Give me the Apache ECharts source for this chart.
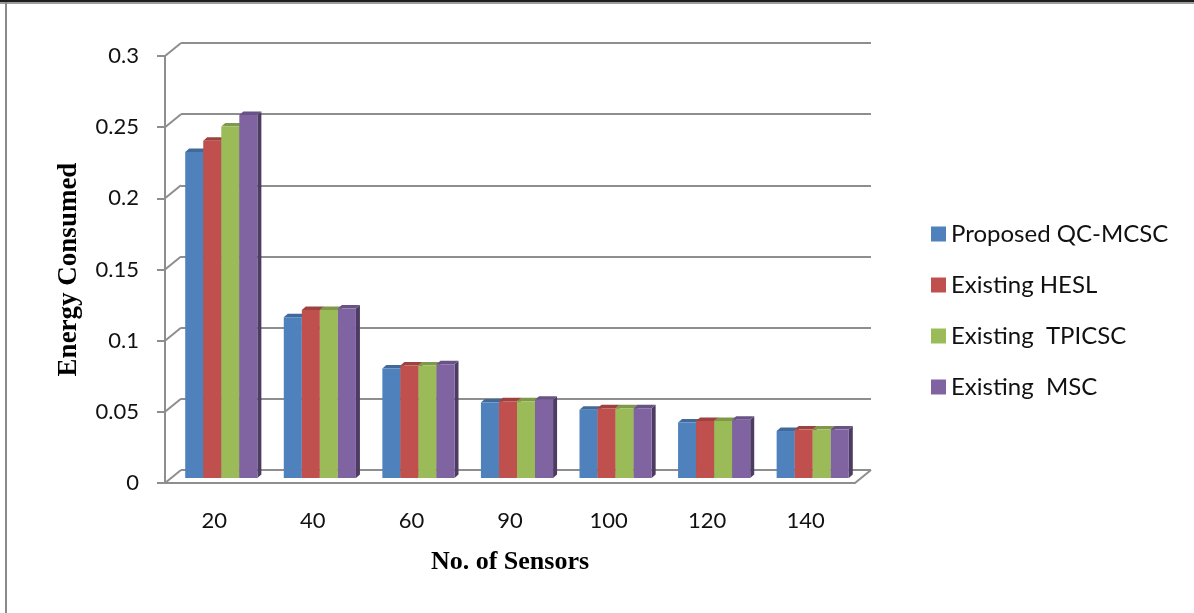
<!DOCTYPE html>
<html>
<head>
<meta charset="utf-8">
<title>Energy Consumed vs No. of Sensors</title>
<script src="https://cdn.jsdelivr.net/npm/echarts@6/dist/echarts.min.js"></script>
<style>
  html, body { margin: 0; padding: 0; background: #ffffff; }
  #chart { width: 1194px; height: 613px; }
</style>
</head>
<body>
<div id="chart"></div>
<script>
// Sensor counts on the category axis
const categories = ['20', '40', '60', '90', '100', '120', '140'];

// Energy consumed per scheme
const proposedQCMCSC = [0.229, 0.113, 0.077, 0.053, 0.048, 0.039, 0.033];
const existingHESL   = [0.237, 0.118, 0.079, 0.054, 0.049, 0.040, 0.034];
const existingTPICSC = [0.247, 0.118, 0.079, 0.054, 0.049, 0.040, 0.034];
const existingMSC    = [0.255, 0.119, 0.080, 0.055, 0.049, 0.041, 0.034];

const seriesNames = ['Proposed QC-MCSC', 'Existing HESL', 'Existing  TPICSC', 'Existing  MSC'];
const seriesColors = ['#4F81BD', '#C0504D', '#9BBB59', '#8064A2'];

// Value-axis ticks (also used for the wall/floor connector lines)
const yTicks = [0, 0.05, 0.1, 0.15, 0.2, 0.25, 0.3];

// Oblique projection of the 3D plot box
const DEPTH_X = 16, DEPTH_Y = 13;       // front plane -> back wall
const BAR_SHIFT_X = 7, BAR_SHIFT_Y = 5;  // bars stand mid-depth
const BAR_DX = 4, BAR_DY = 3.5;          // bar thickness (side / cap)
const GRID_COLOR = '#8e8e8e';

const chart = echarts.init(document.getElementById('chart'));

// Scale an #rrggbb colour's channels by factor (< 1 darkens)
function darken(hex, factor) {
  const n = parseInt(hex.slice(1), 16);
  const r = Math.round(((n >> 16) & 255) * factor);
  const g = Math.round(((n >> 8) & 255) * factor);
  const b = Math.round((n & 255) * factor);
  return 'rgb(' + r + ',' + g + ',' + b + ')';
}

function barRenderer(idx, color) {
  const side = darken(color, 0.6);
  const cap = darken(color, 0.82);
  return function (params, api) {
    const cat = api.value(0);
    const val = api.value(1);
    const top = api.coord([cat, val]);
    const base = api.coord([cat, 0]);
    const band = api.size([1, 0])[0];
    const w = band * 0.183;
    const x = top[0] - 2 * w + idx * w + BAR_SHIFT_X;
    const yT = top[1] - BAR_SHIFT_Y;
    const yB = base[1] - BAR_SHIFT_Y;
    return {
      type: 'group',
      children: [
        { type: 'polygon', shape: { points: [[x + w, yT], [x + w + BAR_DX, yT - BAR_DY], [x + w + BAR_DX, yB - BAR_DY], [x + w, yB]] }, style: { fill: side } },
        { type: 'polygon', shape: { points: [[x, yT], [x + BAR_DX, yT - BAR_DY], [x + w + BAR_DX, yT - BAR_DY], [x + w, yT]] }, style: { fill: cap } },
        { type: 'rect', shape: { x: x, y: yT, width: w, height: yB - yT }, style: { fill: color } }
      ]
    };
  };
}

// Connectors from the front value axis to the back wall gridlines, plus the floor's right edge
function connectorRenderer(params, api) {
  const cs = params.coordSys;
  const v = api.value(1);
  const y = api.coord([0, v])[1];
  const children = [
    { type: 'line', shape: { x1: cs.x, y1: y, x2: cs.x + DEPTH_X, y2: y - DEPTH_Y }, style: { stroke: GRID_COLOR, lineWidth: 2 } }
  ];
  if (v === 0) {
    const xr = cs.x + cs.width;
    children.push({ type: 'line', shape: { x1: xr, y1: y, x2: xr + DEPTH_X, y2: y - DEPTH_Y }, style: { stroke: GRID_COLOR, lineWidth: 2 } });
  }
  return { type: 'group', children: children };
}

const valueLists = [proposedQCMCSC, existingHESL, existingTPICSC, existingMSC];

const barSeries = valueLists.map(function (values, i) {
  return {
    name: seriesNames[i],
    type: 'custom',
    xAxisIndex: 0,
    yAxisIndex: 0,
    itemStyle: { color: seriesColors[i] },
    renderItem: barRenderer(i, seriesColors[i]),
    encode: { x: 0, y: 1 },
    data: values.map(function (v, c) { return [c, v]; }),
    z: 5
  };
});

const option = {
  animation: false,
  backgroundColor: '#ffffff',
  graphic: [
    { type: 'rect', shape: { x: 0, y: 0, width: 1194, height: 2 }, style: { fill: '#1e1e1e' } },
    { type: 'rect', shape: { x: 0, y: 2, width: 1194, height: 2 }, style: { fill: '#9c9c9c' } },
    { type: 'rect', shape: { x: 5, y: 2, width: 2, height: 611 }, style: { fill: '#8a8a8a' } }
  ],
  grid: [
    { left: 165, top: 56, width: 690, height: 427 },  // front plane
    { left: 181, top: 43, width: 690, height: 427 }   // back wall
  ],
  legend: {
    orient: 'vertical',
    left: 926,
    top: 216,
    itemWidth: 15,
    itemHeight: 15,
    itemGap: 25,
    icon: 'rect',
    data: seriesNames,
    textStyle: { fontFamily: 'Lato', fontSize: 24, color: '#111111', lineHeight: 26 }
  },
  xAxis: [
    {
      type: 'category',
      gridIndex: 0,
      data: categories,
      axisLine: { show: true, lineStyle: { color: GRID_COLOR, width: 2 } },
      axisTick: { show: false },
      axisLabel: { fontFamily: 'Lato', fontSize: 22, color: '#111111', margin: 27 },
      name: 'No. of Sensors',
      nameLocation: 'middle',
      nameGap: 66,
      nameTextStyle: { fontFamily: 'Liberation Serif', fontWeight: 'bold', fontSize: 26, color: '#000000', lineHeight: 26 }
    },
    { type: 'value', gridIndex: 1, show: false, min: 0, max: 1 }
  ],
  yAxis: [
    {
      type: 'value',
      gridIndex: 0,
      min: 0,
      max: 0.3,
      interval: 0.05,
      axisLine: { show: true, lineStyle: { color: GRID_COLOR, width: 2 } },
      axisTick: { show: true, length: 8, lineStyle: { color: GRID_COLOR, width: 2 } },
      splitLine: { show: false },
      axisLabel: { fontFamily: 'Lato', fontSize: 22, color: '#111111', margin: 26 },
      name: 'Energy Consumed',
      nameLocation: 'middle',
      nameRotate: 90,
      nameGap: 82,
      nameTextStyle: { fontFamily: 'Liberation Serif', fontWeight: 'bold', fontSize: 27, color: '#000000', lineHeight: 27 }
    },
    {
      type: 'value',
      gridIndex: 1,
      min: 0,
      max: 0.3,
      interval: 0.05,
      axisLine: { show: false },
      axisTick: { show: false },
      axisLabel: { show: false },
      splitLine: { show: true, lineStyle: { color: GRID_COLOR, width: 2 } }
    }
  ],
  series: [
    {
      type: 'custom',
      name: 'connectors',
      xAxisIndex: 0,
      yAxisIndex: 0,
      renderItem: connectorRenderer,
      data: yTicks.map(function (v) { return [0, v]; }),
      z: 1,
      silent: true
    }
  ].concat(barSeries)
};

chart.setOption(option);
</script>
</body>
</html>
